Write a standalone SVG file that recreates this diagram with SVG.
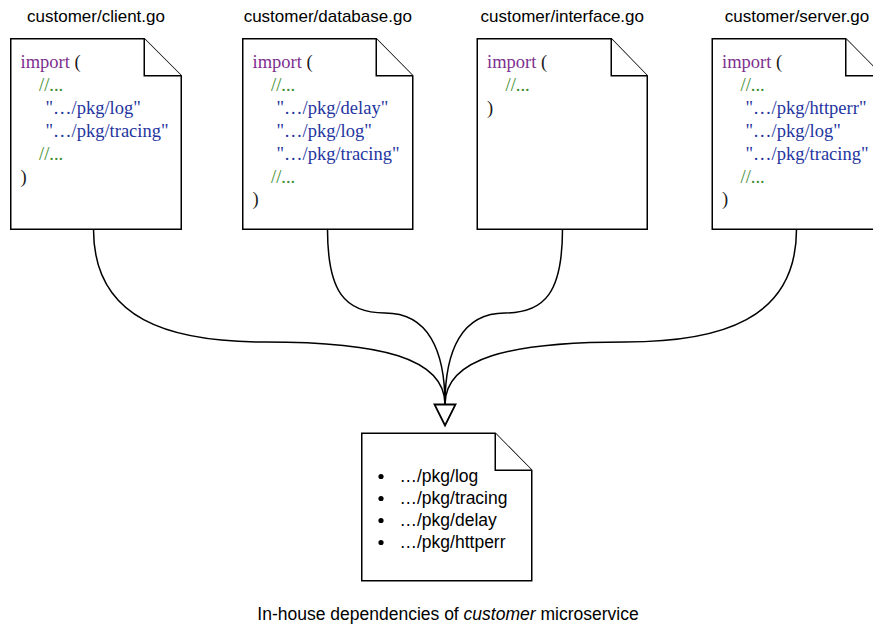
<svg xmlns="http://www.w3.org/2000/svg" width="873" height="624" viewBox="0 0 873 624">
  <style>
    .doc { fill: #ffffff; stroke: #000000; stroke-width: 1.5; stroke-linejoin: miter; }
    .title { font-family: "Liberation Sans", Arial, sans-serif; font-size: 17px; fill: #000000; text-anchor: middle; }
    .code { font-family: "Liberation Serif", "Times New Roman", serif; font-size: 18.5px; fill: #1a1a1a; }
    .kw { fill: #7e2f8e; }
    .cm { fill: #3c8a2c; }
    .str { fill: #1f35a0; }
    .list { font-family: "Liberation Sans", Arial, sans-serif; font-size: 17.5px; fill: #000000; }
    .edge { fill: none; stroke: #000000; stroke-width: 1.5; }
    .caption { font-family: "Liberation Sans", Arial, sans-serif; font-size: 17.5px; fill: #000000; text-anchor: middle; }
  </style>

  <!-- source files -->
  <g id="client">
    <text class="title" x="96" y="22">customer/client.go</text>
    <path class="doc" d="M10.75,38.75 H144.25 L181.25,75.75 V229.25 H10.75 Z"/>
    <path class="doc" d="M144.25,38.75 V75.75 H181.25"/>
    <text class="code kw" x="20.5" y="68">import <tspan fill="#1a1a1a">(</tspan></text>
    <text class="code cm" x="39" y="91">//...</text>
    <text class="code str" x="45.5" y="114">"…/pkg/log"</text>
    <text class="code str" x="45.5" y="137">"…/pkg/tracing"</text>
    <text class="code cm" x="39" y="159.5">//...</text>
    <text class="code" x="20.5" y="182.5">)</text>
  </g>

  <g id="database">
    <text class="title" x="327.75" y="22">customer/database.go</text>
    <path class="doc" d="M242.75,38.75 H376.25 L412.75,75.75 V229.25 H242.75 Z"/>
    <path class="doc" d="M376.25,38.75 V75.75 H412.75"/>
    <text class="code kw" x="252.5" y="68">import <tspan fill="#1a1a1a">(</tspan></text>
    <text class="code cm" x="271" y="91">//...</text>
    <text class="code str" x="276.5" y="114">"…/pkg/delay"</text>
    <text class="code str" x="276.5" y="137">"…/pkg/log"</text>
    <text class="code str" x="276.5" y="159.5">"…/pkg/tracing"</text>
    <text class="code cm" x="271" y="182.5">//...</text>
    <text class="code" x="252.5" y="205">)</text>
  </g>

  <g id="interface">
    <text class="title" x="562.25" y="22">customer/interface.go</text>
    <path class="doc" d="M477.25,38.75 H611.25 L647.25,75.75 V229.25 H477.25 Z"/>
    <path class="doc" d="M611.25,38.75 V75.75 H647.25"/>
    <text class="code kw" x="487" y="68">import <tspan fill="#1a1a1a">(</tspan></text>
    <text class="code cm" x="505.5" y="91">//...</text>
    <text class="code" x="487" y="114">)</text>
  </g>

  <g id="server">
    <text class="title" x="797" y="22">customer/server.go</text>
    <path class="doc" d="M712.25,38.75 H845.75 L882.25,75.75 V229.25 H712.25 Z"/>
    <path class="doc" d="M845.75,38.75 V75.75 H882.25"/>
    <text class="code kw" x="722" y="68">import <tspan fill="#1a1a1a">(</tspan></text>
    <text class="code cm" x="740.5" y="91">//...</text>
    <text class="code str" x="745.5" y="114">"…/pkg/httperr"</text>
    <text class="code str" x="745.5" y="137">"…/pkg/log"</text>
    <text class="code str" x="745.5" y="159.5">"…/pkg/tracing"</text>
    <text class="code cm" x="740.5" y="182.5">//...</text>
    <text class="code" x="722" y="205">)</text>
  </g>

  <!-- dependencies converging on the package summary -->
  <g id="connectors">
    <path class="edge" d="M93.5,229.25 C93.5,320 170,342 265,342 C380,342 445,358 445,404.5"/>
    <path class="edge" d="M327.5,229.25 C327.5,292 345,313 385,313 C428,313 445,350 445,404.5"/>
    <path class="edge" d="M562.5,229.25 C562.5,292 545,313 505,313 C462,313 445,350 445,404.5"/>
    <path class="edge" d="M796.5,229.25 C796.5,320 720,342 625,342 C510,342 445,358 445,404.5"/>
    <polygon points="434.5,404.5 455.5,404.5 445,425.5" fill="#ffffff" stroke="#000000" stroke-width="1.8" stroke-linejoin="miter"/>
  </g>

  <g id="packages">
    <path class="doc" d="M361.75,433.25 H495.25 L531.75,470.25 V580.75 H361.75 Z"/>
    <path class="doc" d="M495.25,433.25 V470.25 H531.75"/>
    <circle cx="381" cy="476.5" r="2.6" fill="#000000"/>
    <circle cx="381" cy="498.5" r="2.6" fill="#000000"/>
    <circle cx="381" cy="520.5" r="2.6" fill="#000000"/>
    <circle cx="381" cy="542.5" r="2.6" fill="#000000"/>
    <text class="list" x="399.5" y="482">…/pkg/log</text>
    <text class="list" x="399.5" y="504">…/pkg/tracing</text>
    <text class="list" x="399.5" y="526">…/pkg/delay</text>
    <text class="list" x="399.5" y="548">…/pkg/httperr</text>
  </g>

  <text class="caption" x="448" y="620">In-house dependencies of <tspan font-style="italic">customer</tspan> microservice</text>
</svg>
